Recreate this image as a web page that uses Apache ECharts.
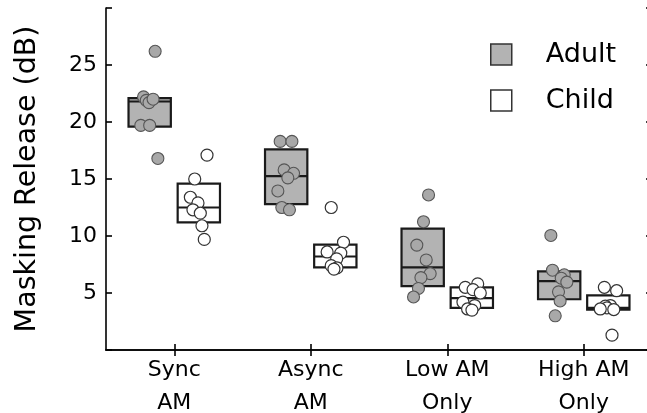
<!DOCTYPE html>
<html>
<head>
<meta charset="utf-8">
<script src="https://cdn.jsdelivr.net/npm/echarts@6/dist/echarts.min.js"></script>
<style>html,body{margin:0;padding:0;background:#fff;}#chart{width:647px;height:413px;}</style>
</head>
<body>
<div id="chart"></div>
<script>
// ---- data ----
const categories = ['Sync\nAM', 'Async\nAM', 'Low AM\nOnly', 'High AM\nOnly'];
const yTicks = [5, 10, 15, 20, 25];
// box summaries per category: [lower, median, upper]
const adultBoxes = [[19.6, 21.8, 22.1], [12.8, 15.25, 17.6], [5.6, 7.25, 10.65], [4.45, 6.05, 6.9]];
const childBoxes = [[11.2, 12.5, 14.6], [7.25, 8.2, 9.25], [3.7, 4.55, 5.5], [3.55, 3.7, 4.8]];
// individual listeners: values and horizontal jitter (category units)
const adultValues = [
  [26.2, 22.2, 21.9, 21.7, 22.0, 19.7, 19.7, 16.8],
  [18.3, 18.3, 15.8, 15.5, 15.1, 13.95, 12.5, 12.3],
  [13.6, 11.25, 9.2, 7.9, 6.7, 6.35, 5.4, 4.65],
  [10.05, 7.0, 6.6, 6.3, 5.95, 5.1, 4.3, 3.0]
];
const adultJitter = [
  [0.04, -0.045, -0.025, -0.005, 0.025, -0.065, 0.0, 0.06],
  [-0.044, 0.042, -0.015, 0.054, 0.012, -0.061, -0.032, 0.024],
  [0.043, 0.006, -0.043, 0.026, 0.055, -0.013, -0.031, -0.067],
  [-0.061, -0.049, 0.037, 0.015, 0.056, -0.005, 0.007, -0.029]
];
const childValues = [
  [17.1, 15.0, 13.4, 12.9, 12.3, 12.0, 10.9, 9.7],
  [12.5, 9.45, 8.6, 8.5, 8.0, 7.4, 7.2, 7.1],
  [5.8, 5.5, 5.3, 5.0, 4.2, 3.9, 3.6, 3.5],
  [5.5, 5.2, 3.9, 3.85, 3.7, 3.6, 3.55, 1.3]
];
const childJitter = [
  [0.06, -0.03, -0.062, -0.006, -0.043, 0.011, 0.023, 0.04],
  [-0.03, 0.06, -0.06, 0.04, 0.01, -0.03, 0.012, -0.01],
  [0.043, -0.048, 0.009, 0.062, -0.065, 0.021, -0.031, 0.001],
  [-0.029, 0.061, 0.015, -0.022, -0.01, -0.059, 0.04, 0.027]
];

// ---- layout constants ----
const SIDE = 0.18;      // offset of each group's box from the category centre
const BOXW = 0.31;      // box width in category units
const FONT = 'DejaVu Sans';
const ADULT_FILL = '#b3b3b3';

function boxData(boxes, side) {
  return boxes.map((b, i) => [i + 1 + side * SIDE, b[0], b[1], b[2]]);
}
function pointData(vals, jit, side) {
  const out = [];
  vals.forEach((arr, i) => arr.forEach((v, j) => out.push([i + 1 + side * SIDE + jit[i][j], v])));
  return out;
}
function renderBox(fill) {
  return function (params, api) {
    const xc = api.value(0);
    const p1 = api.coord([xc - BOXW / 2, api.value(3)]);
    const p2 = api.coord([xc + BOXW / 2, api.value(1)]);
    const pm = api.coord([xc, api.value(2)]);
    const style = { fill: fill, stroke: '#1a1a1a', lineWidth: 2.2 };
    return {
      type: 'group',
      children: [
        { type: 'rect', shape: { x: p1[0], y: p1[1], width: p2[0] - p1[0], height: p2[1] - p1[1] }, style: style },
        { type: 'line', shape: { x1: p1[0], y1: pm[1], x2: p2[0], y2: pm[1] }, style: { stroke: '#1a1a1a', lineWidth: 2.2 } }
      ]
    };
  };
}

const chart = echarts.init(document.getElementById('chart'), null, { renderer: 'canvas' });
const axisLine = { show: true, lineStyle: { color: '#000', width: 1.6 } };
const tickStyle = { inside: true, length: 6, lineStyle: { color: '#000', width: 1.6 } };
const tickPositions = categories.map((c, i) => i + 1);

chart.setOption({
  animation: false,
  backgroundColor: '#fff',
  grid: { left: 106, right: -5, top: 8, bottom: 63, containLabel: false, outerBoundsMode: 'none' },
  legend: {
    orient: 'vertical', left: 490, top: 41, padding: 0,
    itemWidth: 21, itemHeight: 21, itemGap: 19,
    textStyle: { fontFamily: FONT, fontSize: 27, color: '#000', padding: [0, 0, 0, 29] },
    data: [
      { name: 'Adult', icon: 'rect', itemStyle: { color: ADULT_FILL, borderColor: '#333', borderWidth: 1.5 } },
      { name: 'Child', icon: 'rect', itemStyle: { color: '#fff', borderColor: '#333', borderWidth: 1.5 } }
    ]
  },
  xAxis: [
    {
      type: 'value', min: 0.5, max: 4.5, position: 'bottom',
      axisLine: axisLine,
      axisTick: Object.assign({ customValues: tickPositions }, tickStyle),
      axisLabel: {
        customValues: tickPositions,
        formatter: v => categories[Math.round(v) - 1] || '',
        fontFamily: FONT, fontSize: 22, lineHeight: 33, color: '#000', margin: 4
      },
      splitLine: { show: false }
    },
    {
      type: 'value', min: 0.5, max: 4.5, position: 'top',
      axisLine: axisLine,
      axisTick: Object.assign({ customValues: tickPositions }, tickStyle),
      axisLabel: { show: false },
      splitLine: { show: false }
    }
  ],
  yAxis: [
    {
      type: 'value', min: 0, max: 30, interval: 5, position: 'left',
      name: 'Masking Release (dB)', nameLocation: 'middle', nameGap: 64,
      nameTextStyle: { fontFamily: FONT, fontSize: 28.5, color: '#000' },
      axisLine: axisLine,
      axisTick: tickStyle,
      axisLabel: {
        formatter: v => (yTicks.indexOf(v) >= 0 ? String(v) : ''),
        fontFamily: FONT, fontSize: 22, color: '#000', margin: 9
      },
      splitLine: { show: false }
    },
    {
      type: 'value', min: 0, max: 30, interval: 5, position: 'right',
      axisLine: axisLine, axisTick: tickStyle,
      axisLabel: { show: false }, splitLine: { show: false }
    }
  ],
  series: [
    { name: 'Adult', type: 'custom', renderItem: renderBox(ADULT_FILL), data: boxData(adultBoxes, -1), z: 2,
      itemStyle: { color: ADULT_FILL }, encode: { x: 0, y: [1, 2, 3] } },
    { name: 'Child', type: 'custom', renderItem: renderBox('#fff'), data: boxData(childBoxes, 1), z: 2,
      itemStyle: { color: '#fff' }, encode: { x: 0, y: [1, 2, 3] } },
    { name: 'Adult', type: 'scatter', symbol: 'circle', symbolSize: 12, z: 3,
      itemStyle: { color: '#a8a8a8', borderColor: '#555', borderWidth: 1.1, opacity: 1 },
      data: pointData(adultValues, adultJitter, -1) },
    { name: 'Child', type: 'scatter', symbol: 'circle', symbolSize: 12, z: 3,
      itemStyle: { color: '#fff', borderColor: '#333', borderWidth: 1.2, opacity: 1 },
      data: pointData(childValues, childJitter, 1) }
  ]
});
</script>
</body>
</html>
